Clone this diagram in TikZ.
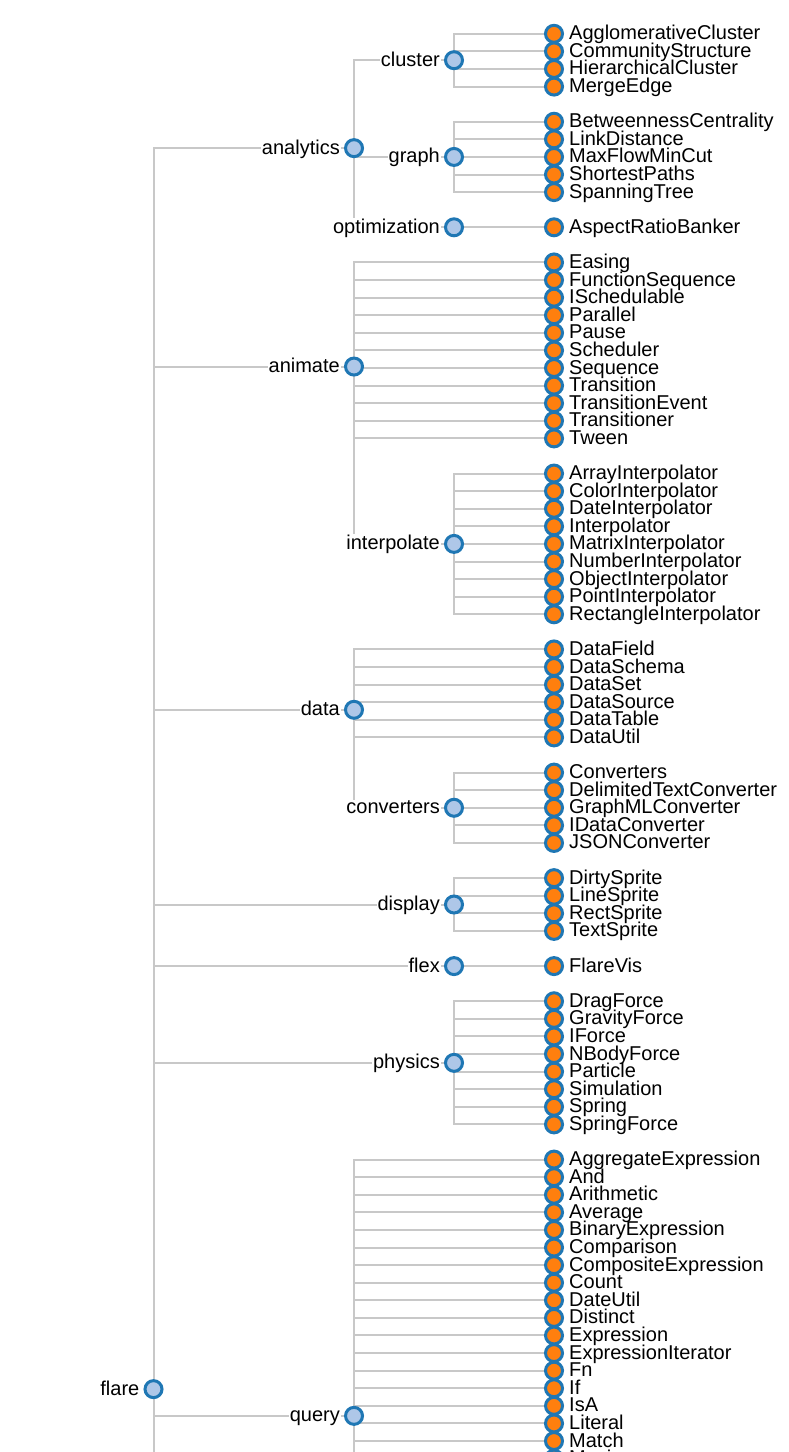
\documentclass[tikz,border=0pt]{standalone}
\usepackage{fontspec}
\setmainfont{Liberation Sans}
\usetikzlibrary{backgrounds}
\definecolor{nodeline}{HTML}{1F77B4}
\definecolor{innerfill}{HTML}{AEC7E8}
\definecolor{leaffill}{HTML}{FF7F0E}
\definecolor{linkgray}{HTML}{C8C8C8}

\begin{document}
\begin{tikzpicture}[x=1pt,y=-17.59pt,label distance=3pt,
    main node/.style={circle,draw=nodeline,fill=innerfill,line width=3pt,minimum size=17pt,inner sep=0pt},
    leaf node/.style={main node,fill=leaffill},
    main text/.style={anchor=base east,yshift=-6pt,fill=white,inner sep=1pt,font=\fontsize{20}{20}\selectfont},
    leaf text/.style={anchor=base west,yshift=-6pt,xshift=2pt,inner sep=0pt,font=\fontsize{20}{20}\selectfont},
    link/.style={draw=linkgray,line width=2pt}]

  \useasboundingbox (0,-1.9216) rectangle (788,80.625);

  % rows are leaf slots, 17.59px apart
  \node[main node,label={[main text]left:flare}] (flare) at (153.5,77.05) {};
  \node[main node,label={[main text]left:analytics}] (analytics) at (354,6.5) {};
  \node[main node,label={[main text]left:animate}] (animate) at (354,18.917) {};
  \node[main node,label={[main text]left:data}] (data) at (354,38.43) {};
  \node[main node,label={[main text]left:query}] (query) at (354,78.57) {};
  \node[main node,label={[main text]left:cluster}] (cluster) at (454,1.5) {};
  \node[main node,label={[main text]left:graph}] (graph) at (454,7) {};
  \node[main node,label={[main text]left:optimization}] (optimization) at (454,11) {};
  \node[main node,label={[main text]left:interpolate}] (interpolate) at (454,29) {};
  \node[main node,label={[main text]left:converters}] (converters) at (454,44) {};
  \node[main node,label={[main text]left:display}] (display) at (454,49.5) {};
  \node[main node,label={[main text]left:flex}] (flex) at (454,53) {};
  \node[main node,label={[main text]left:physics}] (physics) at (454,58.5) {};
  \coordinate (flare end) at (153.5,90);
  \coordinate (query end) at (354,90);

  \foreach \n [count=\k from 0] in {AgglomerativeCluster,CommunityStructure,HierarchicalCluster,MergeEdge}
    \node[leaf node,label={[leaf text]right:\n}] (\k) at (554,\k) {};
  \foreach \n [count=\k from 5] in {BetweennessCentrality,LinkDistance,MaxFlowMinCut,ShortestPaths,SpanningTree}
    \node[leaf node,label={[leaf text]right:\n}] (\k) at (554,\k) {};
  \node[leaf node,label={[leaf text]right:AspectRatioBanker}] (11) at (554,11) {};
  \foreach \n [count=\k from 13] in {Easing,FunctionSequence,ISchedulable,Parallel,Pause,Scheduler,Sequence,Transition,TransitionEvent,Transitioner,Tween}
    \node[leaf node,label={[leaf text]right:\n}] (\k) at (554,\k) {};
  \foreach \n [count=\k from 25] in {ArrayInterpolator,ColorInterpolator,DateInterpolator,Interpolator,MatrixInterpolator,NumberInterpolator,ObjectInterpolator,PointInterpolator,RectangleInterpolator}
    \node[leaf node,label={[leaf text]right:\n}] (\k) at (554,\k) {};
  \foreach \n [count=\k from 35] in {DataField,DataSchema,DataSet,DataSource,DataTable,DataUtil}
    \node[leaf node,label={[leaf text]right:\n}] (\k) at (554,\k) {};
  \foreach \n [count=\k from 42] in {Converters,DelimitedTextConverter,GraphMLConverter,IDataConverter,JSONConverter}
    \node[leaf node,label={[leaf text]right:\n}] (\k) at (554,\k) {};
  \foreach \n [count=\k from 48] in {DirtySprite,LineSprite,RectSprite,TextSprite}
    \node[leaf node,label={[leaf text]right:\n}] (\k) at (554,\k) {};
  \node[leaf node,label={[leaf text]right:FlareVis}] (53) at (554,53) {};
  \foreach \n [count=\k from 55] in {DragForce,GravityForce,IForce,NBodyForce,Particle,Simulation,Spring,SpringForce}
    \node[leaf node,label={[leaf text]right:\n}] (\k) at (554,\k) {};
  \foreach \n [count=\k from 64] in {AggregateExpression,And,Arithmetic,Average,BinaryExpression,Comparison,CompositeExpression,Count,DateUtil,Distinct,Expression,ExpressionIterator,Fn,If,IsA,Literal,Match,Maximum}
    \node[leaf node,label={[leaf text]right:\n}] (\k) at (554,\k) {};

  % elbow links
  \begin{scope}[on background layer]
    \foreach \k in {0,...,3} \draw[link] (\k.center) -| (cluster.center);
    \foreach \k in {5,...,9} \draw[link] (\k.center) -| (graph.center);
    \draw[link] (11.center) -- (optimization.center);
    \foreach \k in {13,...,23} \draw[link] (\k.center) -| (animate.center);
    \foreach \k in {25,...,33} \draw[link] (\k.center) -| (interpolate.center);
    \foreach \k in {35,...,40} \draw[link] (\k.center) -| (data.center);
    \foreach \k in {42,...,46} \draw[link] (\k.center) -| (converters.center);
    \foreach \k in {48,...,51} \draw[link] (\k.center) -| (display.center);
    \draw[link] (53.center) -- (flex.center);
    \foreach \k in {55,...,62} \draw[link] (\k.center) -| (physics.center);
    \foreach \k in {64,...,81} \draw[link] (\k.center) -| (query.center);
    \foreach \c in {cluster,graph,optimization} \draw[link] (\c.center) -| (analytics.center);
    \draw[link] (interpolate.center) -| (animate.center);
    \draw[link] (converters.center) -| (data.center);
    \foreach \c in {analytics,animate,data,display,flex,physics,query} \draw[link] (\c.center) -| (flare.center);
    \draw[link] (query end) -- (query.center);
    \draw[link] (flare end) -- (flare.center);
  \end{scope}
\end{tikzpicture}
\end{document}
